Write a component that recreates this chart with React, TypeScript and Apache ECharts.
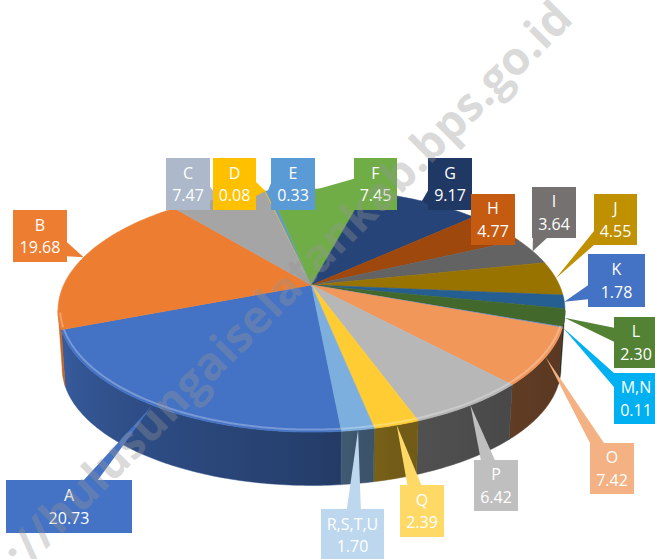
import React, { useEffect, useRef } from "react";
import * as echarts from "echarts";

// ---- data ----
const CATEGORIES = ["A", "B", "C", "D", "E", "F", "G", "H", "I", "J", "K", "L", "M,N", "O", "P", "Q", "R,S,T,U"];
const VALUES = [20.73, 19.68, 7.47, 0.08, 0.33, 7.45, 9.17, 4.77, 3.64, 4.55, 1.78, 2.3, 0.11, 7.42, 6.42, 2.39, 1.7];
const SLICE_COLORS = [
  "#4472C4", "#ED7D31", "#A5A5A5", "#FFC000", "#5B9BD5", "#70AD47",
  "#264478", "#9E480E", "#636363", "#997300", "#255E91", "#43682B",
  "#698ED0", "#F1975A", "#B7B7B7", "#FFCD33", "#7CAFDD",
];
const LABEL_COLORS = [
  "#4472C4", "#ED7D31", "#ADB9CA", "#FFC000", "#5B9BD5", "#70AD47",
  "#203864", "#C55A11", "#767171", "#BF9000", "#4472C4", "#548235",
  "#00B0F0", "#F4B183", "#BFBFBF", "#FFD966", "#BDD7EE",
];
// label box layout [x, y, w, h]
const LABEL_BOXES = [
  [6, 480, 126, 53], [13, 210, 54, 52], [166, 158, 44, 52], [213, 158, 43, 52],
  [271, 158, 44, 52], [354, 158, 43, 52], [428, 158, 44, 52], [471, 194, 44, 51],
  [532, 187, 44, 51], [594, 194, 43, 51], [588, 254, 57, 53], [614, 317, 44, 51],
  [614, 373, 44, 51], [590, 443, 44, 51], [474, 460, 44, 51], [400, 485, 44, 52],
  [321, 509, 63, 52],
];
const WATERMARK = "http://hulusungaiselatankab.bps.go.id";

// ---- projection (perspective 3D pie) ----
const CX = 311.5;
const CY = 285;
const GX = 247.8;
const AY = 116.2;
const KP = 0.21;
const ELL_CY = 310.5;
const DEPTH = 57;
const THETA0 = 174.5;

function rim(t: number): number[] {
  const r = (t * Math.PI) / 180;
  const s = Math.sin(r);
  const c = Math.cos(r);
  const d = 1 + KP * c;
  return [CX + (GX * s) / d, CY - (AY * c) / d];
}
function bot(t: number): number[] {
  const p = rim(t);
  return [CX + (p[0] - CX) * 0.984, ELL_CY + (p[1] - ELL_CY) * 0.97 + DEPTH];
}
function arc(a: number, b: number, fn: (t: number) => number[]): number[][] {
  const n = Math.max(2, Math.ceil((b - a) / 0.8) + 1);
  const pts: number[][] = [];
  for (let i = 0; i < n; i++) pts.push(fn(a + ((b - a) * i) / (n - 1)));
  return pts;
}
function hexRgb(h: string): number[] {
  const v = parseInt(h.slice(1), 16);
  return [(v >> 16) & 255, (v >> 8) & 255, v & 255];
}
function shadeColor(h: string, f: number): string {
  const [r, g, b] = hexRgb(h);
  return `rgb(${Math.round(r * f)},${Math.round(g * f)},${Math.round(b * f)})`;
}
const SHADE_TABLE = [
  [100, 0.36], [140, 0.4], [165, 0.45], [180, 0.55], [215, 0.68], [260, 0.85],
];
function shadeAt(t: number): number {
  let tn = t % 360;
  if (tn < 0) tn += 360;
  if (tn <= SHADE_TABLE[0][0]) return SHADE_TABLE[0][1];
  for (let i = 1; i < SHADE_TABLE.length; i++) {
    const [t1, f1] = SHADE_TABLE[i];
    const [t0, f0] = SHADE_TABLE[i - 1];
    if (tn <= t1) return f0 + ((f1 - f0) * (tn - t0)) / (t1 - t0);
  }
  return SHADE_TABLE[SHADE_TABLE.length - 1][1];
}

const TOTAL = VALUES.reduce((s, v) => s + v, 0);
const CUM: number[] = [];
VALUES.reduce((s, v, i) => {
  CUM[i] = s;
  return s + v;
}, 0);
const SERIES_DATA = VALUES.map((v, i) => [v, CUM[i]]);

function sliceAngles(api: any): number[] {
  const v = api.value(0);
  const c = api.value(1);
  const a = THETA0 + (c / TOTAL) * 360;
  const b = a + (v / TOTAL) * 360;
  return [a, b];
}

const VIS_K = (Math.acos(-KP) * 180) / Math.PI; // ~102.1
const VIS_RANGES = [
  [VIS_K, 360 - VIS_K],
  [360 + VIS_K, 720 - VIS_K],
];

function renderWall(params: any, api: any) {
  const i = params.dataIndex;
  const [a, b] = sliceAngles(api);
  const children: any[] = [];
  VIS_RANGES.forEach(([r0, r1]) => {
    const lo = Math.max(a, r0);
    const hi = Math.min(b, r1);
    if (hi <= lo) return;
    const top = arc(lo, hi, rim);
    const bottom = arc(lo, hi, bot).reverse();
    const pts = top.concat(bottom);
    let xmin = Infinity;
    let xmax = -Infinity;
    pts.forEach((p) => {
      xmin = Math.min(xmin, p[0]);
      xmax = Math.max(xmax, p[0]);
    });
    const stops: any[] = [];
    const m = 8;
    for (let k = 0; k <= m; k++) {
      const t = lo + ((hi - lo) * k) / m;
      const x = rim(t)[0];
      const off = xmax > xmin ? Math.min(1, Math.max(0, (x - xmin) / (xmax - xmin))) : 0;
      stops.push({ offset: off, color: shadeColor(SLICE_COLORS[i], shadeAt(t)) });
    }
    stops.sort((p, q) => p.offset - q.offset);
    const mid = shadeColor(SLICE_COLORS[i], shadeAt((lo + hi) / 2));
    children.push({
      type: "polygon",
      shape: { points: pts },
      style: {
        fill: new echarts.graphic.LinearGradient(0, 0, 1, 0, stops),
        stroke: mid,
        lineWidth: 0.5,
      },
    });
  });
  return { type: "group", children };
}

function renderTop(params: any, api: any) {
  const i = params.dataIndex;
  const [a, b] = sliceAngles(api);
  const pts = [[CX, CY]].concat(arc(a, b, rim));
  const children: any[] = [
    {
      type: "polygon",
      shape: { points: pts },
      style: { fill: SLICE_COLORS[i], stroke: SLICE_COLORS[i], lineWidth: 0.6 },
    },
  ];
  VIS_RANGES.forEach(([r0, r1]) => {
    const lo = Math.max(a, r0 + 8);
    const hi = Math.min(b, r1 - 2);
    if (hi <= lo) return;
    const hl = arc(lo, hi, rim).map((p) => [CX + (p[0] - CX) * 0.992, p[1] - 2.5]);
    children.push({
      type: "polyline",
      shape: { points: hl },
      style: { fill: null, stroke: "rgba(255,255,255,0.28)", lineWidth: 2 },
    });
  });
  return { type: "group", children };
}

function renderLabel(params: any, api: any) {
  const i = params.dataIndex;
  const [a, b] = sliceAngles(api);
  const [bx, by, bw, bh] = LABEL_BOXES[i];
  const tip = rim((a + b) / 2);
  const cx = bx + bw / 2;
  const cy = by + bh / 2;
  const children: any[] = [];
  const inside = tip[0] >= bx && tip[0] <= bx + bw && tip[1] >= by && tip[1] <= by + bh;
  if (!inside) {
    const dx = tip[0] - cx;
    const dy = tip[1] - cy;
    const tx = dx !== 0 ? (bw / 2) / Math.abs(dx) : Infinity;
    const ty = dy !== 0 ? (bh / 2) / Math.abs(dy) : Infinity;
    const half = 7;
    let p1: number[];
    let p2: number[];
    if (tx < ty) {
      const ex = dx > 0 ? bx + bw : bx;
      let ey = cy + dy * tx;
      ey = Math.min(by + bh - half, Math.max(by + half, ey));
      p1 = [ex, ey - half];
      p2 = [ex, ey + half];
    } else {
      const ey = dy > 0 ? by + bh : by;
      let ex = cx + dx * ty;
      ex = Math.min(bx + bw - half, Math.max(bx + half, ex));
      p1 = [ex - half, ey];
      p2 = [ex + half, ey];
    }
    children.push({
      type: "polygon",
      shape: { points: [p1, tip, p2] },
      style: { fill: LABEL_COLORS[i] },
    });
  }
  children.push({
    type: "rect",
    shape: { x: bx, y: by, width: bw, height: bh },
    style: { fill: LABEL_COLORS[i] },
  });
  const font = { fill: "#ffffff", fontSize: 16, fontFamily: "'Open Sans', sans-serif", align: "center", verticalAlign: "middle" };
  children.push({ type: "text", style: { ...font, text: CATEGORIES[i], x: cx, y: cy - 11.3 } });
  children.push({ type: "text", style: { ...font, text: api.value(0).toFixed(2), x: cx, y: cy + 11.3 } });
  return { type: "group", children };
}

export default function App() {
  const ref = useRef<HTMLDivElement>(null);
  useEffect(() => {
    document.body.style.margin = "0";
    if (!ref.current) return;
    const chart = echarts.init(ref.current, null, { renderer: "svg" });
    chart.setOption({
      animation: false,
      backgroundColor: "#ffffff",
      series: [
        { type: "custom", coordinateSystem: "none", silent: true, z: 1, data: SERIES_DATA, renderItem: renderWall },
        { type: "custom", coordinateSystem: "none", silent: true, z: 2, data: SERIES_DATA, renderItem: renderTop },
        { type: "custom", coordinateSystem: "none", silent: true, z: 3, data: SERIES_DATA, renderItem: renderLabel },
      ],
      graphic: [
        {
          type: "text",
          x: 562,
          y: 8,
          rotation: Math.PI / 4,
          z: 100,
          silent: true,
          style: {
            text: WATERMARK,
            fill: "rgba(150,150,150,0.35)",
            font: "bold 46px 'Open Sans', sans-serif",
            align: "right",
            verticalAlign: "middle",
          },
        },
      ],
    });
    return () => chart.dispose();
  }, []);
  return <div ref={ref} style={{ width: 655, height: 559 }} />;
}
